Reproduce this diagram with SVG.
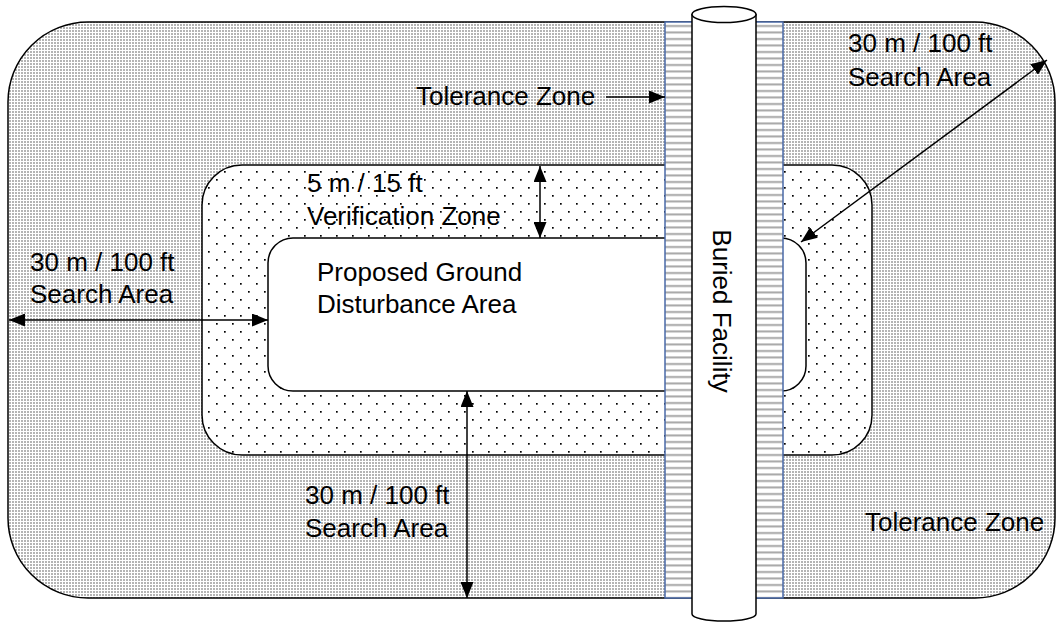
<svg xmlns="http://www.w3.org/2000/svg" width="1057" height="622" viewBox="0 0 1057 622">
  <style>
    text { font-family: "Liberation Sans", Arial, sans-serif; font-size: 26px; fill: #000; }
    .edge { stroke: #000; stroke-width: 1.5; }
    .arrow { stroke: #000; stroke-width: 1.5; fill: none; }
    .band { stroke: #4a6aa8; stroke-width: 1.5; }
  </style>
  <defs>
    <pattern id="gray" width="3" height="3" patternUnits="userSpaceOnUse">
      <rect width="3" height="3" fill="#fff"/>
      <rect width="2" height="2" fill="#b4b4b4"/>
    </pattern>
    <pattern id="dots" width="16" height="16" patternUnits="userSpaceOnUse" x="202" y="165">
      <rect width="16" height="16" fill="#fff"/>
      <rect x="6" y="6" width="1.7" height="1.7" fill="#000"/>
      <rect x="14" y="14" width="1.7" height="1.7" fill="#000"/>
    </pattern>
    <pattern id="stripes" width="10" height="6.5" patternUnits="userSpaceOnUse" y="22">
      <rect width="10" height="6.5" fill="#fff"/>
      <rect y="3" width="10" height="2" fill="#a6a6a6"/>
    </pattern>
    <marker id="ah" markerWidth="16" markerHeight="13" refX="16" refY="6.5" orient="auto-start-reverse" markerUnits="userSpaceOnUse">
      <path d="M0,0 L16,6.5 L0,13 z" fill="#000"/>
    </marker>
  </defs>

  <g id="search-area">
    <rect x="8" y="22" width="1047" height="576" rx="80" ry="80" fill="url(#gray)" class="edge"/>
  </g>
  <g id="verification-zone">
    <rect x="202" y="165" width="670" height="290" rx="40" ry="40" fill="url(#dots)" class="edge"/>
  </g>
  <g id="disturbance-area">
    <rect x="268" y="238" width="538" height="153" rx="25" ry="25" fill="#fff" class="edge"/>
  </g>
  <g id="tolerance-band">
    <rect x="665" y="22" width="118" height="576" fill="url(#stripes)" class="band"/>
  </g>
  <g id="buried-facility">
    <path d="M692,14.5 L692,614 A32,7 0 0 0 756,614 L756,14.5 Z" fill="#fff" class="edge"/>
    <ellipse cx="724" cy="14.5" rx="32" ry="8" fill="#fff" class="edge"/>
    <text transform="translate(713,311) rotate(90)" text-anchor="middle">Buried Facility</text>
  </g>

  <g id="connectors">
    <line x1="606" y1="97" x2="665" y2="97" class="arrow" marker-end="url(#ah)"/>
    <line x1="801" y1="242" x2="1047" y2="60" class="arrow" marker-start="url(#ah)" marker-end="url(#ah)"/>
    <line x1="540" y1="166" x2="540" y2="238" class="arrow" marker-start="url(#ah)" marker-end="url(#ah)"/>
    <line x1="9" y1="320" x2="268" y2="320" class="arrow" marker-start="url(#ah)" marker-end="url(#ah)"/>
    <line x1="467" y1="391" x2="467" y2="598" class="arrow" marker-start="url(#ah)" marker-end="url(#ah)"/>
  </g>

  <g id="labels">
    <text x="416" y="105">Tolerance Zone</text>
    <text x="848" y="52">30 m / 100 ft</text>
    <text x="848" y="86">Search Area</text>
    <text x="307" y="192">5 m / 15 ft</text>
    <text x="307" y="225">Verification Zone</text>
    <text x="30" y="271">30 m / 100 ft</text>
    <text x="30" y="303">Search Area</text>
    <text x="317" y="281">Proposed Ground</text>
    <text x="317" y="313">Disturbance Area</text>
    <text x="305" y="504">30 m / 100 ft</text>
    <text x="305" y="537">Search Area</text>
    <text x="865" y="531">Tolerance Zone</text>
  </g>
</svg>
